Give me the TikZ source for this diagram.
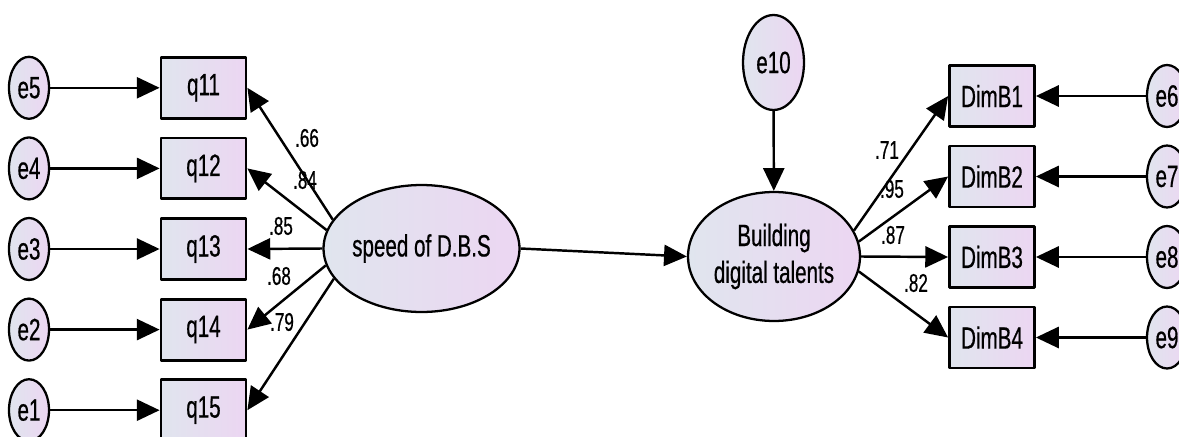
\documentclass[tikz,border=0pt]{standalone}
\usepackage{fontspec}
\setmainfont{Liberation Sans}[FakeStretch=0.67,FakeBold=0.6]
\usetikzlibrary{arrows.meta,shapes.geometric}
\definecolor{shadeL}{RGB}{224,229,238}
\definecolor{shadeR}{RGB}{236,214,242}

\begin{document}
\begin{tikzpicture}[x=0.02cm,y=-0.02cm,line join=round,
	font=\fontsize{17.5}{19}\selectfont,
	fill/.style={left color=shadeL,right color=shadeR},
	obs/.style={draw,fill,line width=1.6pt,minimum width=1.7cm,minimum height=1.22cm,inner sep=0pt},
	err/.style={draw,fill,ellipse,line width=1.3pt,minimum width=0.8cm,minimum height=1.24cm,inner sep=0pt},
	lat/.style={draw,fill,ellipse,line width=1.3pt,align=center,inner sep=0pt},
	path/.style={line width=1.4pt,-{Triangle[length=13pt,width=12pt]}},
	coef/.style={font=\fontsize{14.5}{15}\selectfont,inner sep=0pt}]
	\def\gap{80.6}
	\def\xe{29}
	\def\xq{203.5}
	\def\xb{992}
	\def\xr{1167}
	\useasboundingbox (0,0) rectangle (1179,436);
	% left measurement part
	\node[obs] (q11) at (\xq,249-2*\gap) {q11};
	\node[obs] (q12) at (\xq,249-\gap) {q12};
	\node[obs] (q13) at (\xq,249) {q13};
	\node[obs] (q14) at (\xq,249+\gap) {q14};
	\node[obs] (q15) at (\xq,249+2*\gap) {q15};
	\node[err] (e5) at (\xe,249-2*\gap) {e5};
	\node[err] (e4) at (\xe,249-\gap) {e4};
	\node[err] (e3) at (\xe,249) {e3};
	\node[err] (e2) at (\xe,249+\gap) {e2};
	\node[err] (e1) at (\xe,249+2*\gap) {e1};
	\node[lat,minimum width=3.42cm,minimum height=2.54cm] (speed) at (421.5,248.5) {speed of D.B.S};
	% right measurement part
	\node[lat,minimum width=3.44cm,minimum height=2.58cm] (talent) at (774,256.5) {Building\\[2pt]digital talents};
	\node[err,minimum width=1.22cm,minimum height=1.9cm] (e10) at (773.5,62.5) {e10};
	\node[obs] (dimb1) at (\xb,257-2*80.5) {DimB1};
	\node[obs] (dimb2) at (\xb,257-80.5) {DimB2};
	\node[obs] (dimb3) at (\xb,257) {DimB3};
	\node[obs] (dimb4) at (\xb,257+80.5) {DimB4};
	\node[err] (e6) at (\xr,257-2*80.5) {e6};
	\node[err] (e7) at (\xr,257-80.5) {e7};
	\node[err] (e8) at (\xr,257) {e8};
	\node[err] (e9) at (\xr,257+80.5) {e9};
	% paths
	\draw[path] (e5)--(q11);
	\draw[path] (e4)--(q12);
	\draw[path] (e3)--(q13);
	\draw[path] (e2)--(q14);
	\draw[path] (e1)--(q15);
	\draw[path] (speed.162)--(q11.east);
	\draw[path] (speed.169)--(q12.east);
	\draw[path] (speed.west)--(q13.east);
	\draw[path] (speed.190)--(q14.east);
	\draw[path] (speed.199)--(q15.east);
	\draw[path] (speed.east)--(talent.west);
	\draw[path] (e10)--(talent);
	\draw[path] (talent.18)--(dimb1.west);
	\draw[path] (talent.10)--(dimb2.west);
	\draw[path] (talent.east)--(dimb3.west);
	\draw[path] (talent.-10)--(dimb4.west);
	\draw[path] (e6)--(dimb1);
	\draw[path] (e7)--(dimb2);
	\draw[path] (e8)--(dimb3);
	\draw[path] (e9)--(dimb4);
	% loadings
	\node[coef] (c11) at (307,138) {.66};
	\node[coef] (c12) at (305,180) {.84};
	\node[coef] (c13) at (281,226) {.85};
	\node[coef] (c14) at (279,276) {.68};
	\node[coef] (c15) at (282,322) {.79};
	\node[coef] (cb1) at (887,150) {.71};
	\node[coef] (cb2) at (892,189) {.95};
	\node[coef] (cb3) at (893,235) {.87};
	\node[coef] (cb4) at (916,283) {.82};
\end{tikzpicture}
\end{document}
